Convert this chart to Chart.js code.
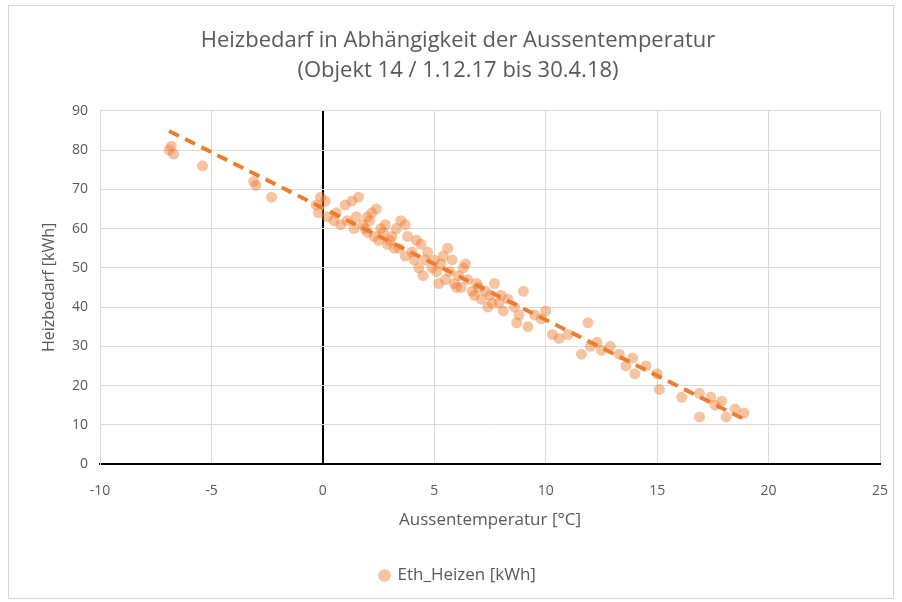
<!DOCTYPE html>
<html>
<head>
<meta charset="utf-8">
<script src="https://cdn.jsdelivr.net/npm/chart.js@4/dist/chart.umd.min.js"></script>
<style>
  html, body { margin: 0; padding: 0; background: #fff; }
  #frame { position: absolute; left: 8px; top: 5px; width: 886px; height: 594px; border: 1px solid #d4d4d4; box-sizing: border-box; }
  #wrap { position: absolute; left: 0; top: 0; width: 902px; height: 602px; }
</style>
</head>
<body>
<div id="frame"></div>
<div id="wrap"><canvas id="chart-0" width="902" height="602"></canvas></div>
<script>
// Aussentemperatur [°C] und Heizbedarf [kWh]
var temps = [
    -6.8, -6.7, -6.9, -5.4, -3.1, -3.0, -2.3,
    -0.3, -0.1, 0.1, -0.2, 0.2, 0.5, 0.8, 1.0, 1.3, 1.6, 1.1, 1.4, 1.8,
    2.0, 2.2, 2.4, 2.0, 2.3, 2.6, 2.8, 2.5, 2.9, 3.1, 3.3, 3.5, 3.7, 3.4,
    3.7, 4.0, 4.2, 4.4, 4.6, 4.9, 4.5, 5.1, 5.3, 5.4, 5.6, 5.8, 5.5, 5.9,
    6.1, 6.3, 6.5, 6.0, 6.7, 6.9, 7.1, 7.3, 7.5, 7.7, 7.4, 7.9, 8.1, 8.3,
    8.6, 8.8, 9.0, 8.7, 9.2, 9.5, 9.8, 10.0, 10.3, 10.6, 11.0, 11.6, 11.9,
    12.0, 12.3, 12.5, 12.9, 13.3, 13.6, 13.9, 14.0, 14.5, 15.0, 15.1, 16.1,
    16.9, 16.9, 17.4, 17.6, 17.9, 18.1, 18.5, 18.9,
    0.6, 1.5, 1.9, 2.1, 2.7, 3.0, 3.2, 3.8, 4.1, 4.3, 4.7, 5.0, 5.2, 5.7,
    6.2, 6.4, 6.8, 7.0, 7.6, 8.0
];
var heizbedarf = [
    81, 79, 80, 76, 72, 71, 68,
    66, 68, 67, 64, 63, 62, 61, 66, 67, 68, 62, 60, 61,
    63, 64, 65, 59, 58, 60, 61, 57, 56, 58, 60, 62, 61, 55,
    53, 54, 57, 56, 52, 50, 48, 49, 51, 53, 55, 52, 47, 46,
    48, 50, 47, 45, 44, 46, 42, 44, 43, 46, 40, 41, 39, 42,
    40, 38, 44, 36, 35, 38, 37, 39, 33, 32, 33, 28, 36,
    30, 31, 29, 30, 28, 25, 27, 23, 25, 23, 19, 17,
    12, 18, 17, 15, 16, 12, 14, 13,
    64, 63, 60, 62, 59, 57, 55, 58, 52, 50, 54, 52, 46, 49,
    45, 51, 43, 45, 41, 43
];
var xTicks = [-10, -5, 0, 5, 10, 15, 20, 25];
var yTicks = [0, 10, 20, 30, 40, 50, 60, 70, 80, 90];

var points = [];
for (var i = 0; i < temps.length; i++) {
    points.push({x: temps[i], y: heizbedarf[i]});
}

// lineare Trendlinie (kleinste Quadrate)
var n = temps.length, sx = 0, sy = 0, sxx = 0, sxy = 0;
for (var k = 0; k < n; k++) {
    sx += temps[k]; sy += heizbedarf[k];
    sxx += temps[k] * temps[k]; sxy += temps[k] * heizbedarf[k];
}
var slope = (n * sxy - sx * sy) / (n * sxx - sx * sx);
var icpt = (sy - slope * sx) / n;
var xMin = Math.min.apply(null, temps), xMax = Math.max.apply(null, temps);
var trend = [
    {x: xMin, y: icpt + slope * xMin},
    {x: xMax, y: icpt + slope * xMax}
];

var textColor = '#595959';
var fontFam = "'Open Sans', 'Noto Sans', sans-serif";

new Chart('chart-0', {
    type: 'scatter',
    data: {
        datasets: [{
            label: 'Eth_Heizen [kWh]',
            data: points,
            backgroundColor: 'rgba(237,125,49,0.45)',
            borderColor: 'rgba(237,125,49,0)',
            pointRadius: 5.5,
            pointHoverRadius: 5.5
        }, {
            label: 'trend',
            type: 'line',
            data: trend,
            borderColor: '#ED7D31',
            borderWidth: 4,
            borderDash: [11, 7],
            pointRadius: 0,
            fill: false
        }]
    },
    options: {
        responsive: false,
        animation: false,
        layout: { padding: { left: 36, right: 22, top: 10, bottom: 8 } },
        plugins: {
            title: {
                display: true,
                text: ['Heizbedarf in Abhängigkeit der Aussentemperatur', '(Objekt 14 / 1.12.17 bis 30.4.18)'],
                color: textColor,
                font: { family: fontFam, size: 22, weight: 'normal', lineHeight: 1.36 },
                padding: { top: 16, bottom: 25 }
            },
            legend: {
                position: 'bottom',
                labels: {
                    color: textColor,
                    font: { family: fontFam, size: 17 },
                    usePointStyle: true,
                    pointStyle: 'circle',
                    boxWidth: 9,
                    boxHeight: 9,
                    padding: 10,
                    filter: function (item) { return item.text !== 'trend'; }
                }
            },
            tooltip: { enabled: false }
        },
        scales: {
            x: {
                type: 'linear',
                min: xTicks[0],
                max: xTicks[xTicks.length - 1],
                afterBuildTicks: function (axis) { axis.ticks = xTicks.map(function (v) { return {value: v}; }); },
                afterFit: function (axis) { axis.height = 93; axis.paddingRight = 0; },
                grid: {
                    color: function (ctx) { return ctx.tick && ctx.tick.value === 0 ? '#000000' : '#d9d9d9'; },
                    lineWidth: function (ctx) { return ctx.tick && ctx.tick.value === 0 ? 2 : 1; },
                    drawTicks: false
                },
                border: { color: '#000000', width: 2 },
                ticks: { color: textColor, font: { family: fontFam, size: 14 }, padding: 19 },
                title: { display: true, text: 'Aussentemperatur [°C]', color: textColor, font: { family: fontFam, size: 17 }, padding: { top: 0, bottom: 27 } }
            },
            y: {
                min: yTicks[0],
                max: yTicks[yTicks.length - 1],
                afterBuildTicks: function (axis) { axis.ticks = yTicks.map(function (v) { return {value: v}; }); },
                afterFit: function (axis) { axis.width = 64; },
                grid: { color: '#d9d9d9', lineWidth: 1, drawTicks: false },
                border: { color: '#d9d9d9', width: 1 },
                ticks: { color: textColor, font: { family: fontFam, size: 14 }, padding: 12 },
                title: { display: true, text: 'Heizbedarf [kWh]', color: textColor, font: { family: fontFam, size: 16 }, padding: { bottom: 6 } }
            }
        }
    }
});
</script>
</body>
</html>
